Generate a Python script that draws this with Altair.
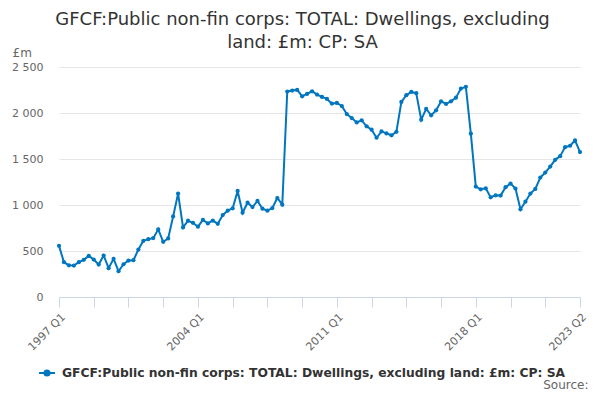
import json
import altair as alt
import pandas as pd

# Quarter categories 1997 Q1 .. 2023 Q2
quarters = [f"{y} Q{q}" for y in range(1997, 2024) for q in range(1, 5)][:106]

values = [
    556, 378, 345, 342, 378, 404, 447, 407, 353, 451,
    313, 415, 280, 356, 396, 400, 516, 611, 629, 640,
    735, 600, 636, 876, 1124, 756, 829, 807, 764, 838,
    800, 831, 795, 891, 938, 964, 1153, 916, 1025, 978,
    1044, 960, 938, 967, 1076, 1004, 2233, 2244, 2251, 2182,
    2207, 2236, 2200, 2175, 2153, 2102, 2109, 2076, 1989, 1945,
    1898, 1920, 1855, 1818, 1731, 1800, 1778, 1758, 1796, 2120,
    2193, 2229, 2215, 1927, 2044, 1975, 2029, 2127, 2098, 2127,
    2167, 2265, 2284, 1775, 1200, 1171, 1182, 1084, 1105, 1102,
    1193, 1233, 1178, 953, 1036, 1124, 1175, 1298, 1353, 1418,
    1491, 1531, 1629, 1644, 1702, 1575,
]

series_name = "GFCF:Public non-fin corps: TOTAL: Dwellings, excluding land: £m: CP: SA"
title_lines = ["GFCF:Public non-fin corps: TOTAL: Dwellings, excluding", "land: £m: CP: SA"]
tick_labels = ["1997 Q1", "2004 Q1", "2011 Q1", "2018 Q1", "2023 Q2"]
tick_quarters = quarters[::7]
y_ticks = [0, 500, 1000, 1500, 2000, 2500]

df = pd.DataFrame({"quarter": quarters, "value": values, "series": series_name})

BLUE = "#0076c0"
FONT = "DejaVu Sans"

label_expr = "indexof(" + json.dumps(tick_labels) + ", datum.value) >= 0 ? datum.value : ''"

legend_symbol = "M-1,0L1,0M-0.32,0A0.32,0.32,0,1,0,0.32,0A0.32,0.32,0,1,0,-0.32,0Z"

chart = alt.Chart(df).mark_line(
    strokeWidth=2,
    point=alt.OverlayMarkDef(size=18, filled=True, opacity=1),
).encode(
    x=alt.X(
        "quarter:O",
        sort=quarters,
        scale=alt.Scale(type="point", padding=0),
        axis=alt.Axis(
            values=tick_quarters,
            labelExpr=label_expr,
            labelAngle=-45,
            labelOverlap=False,
            labelFont=FONT,
            labelFontSize=11,
            labelColor="#666666",
            labelPadding=4,
            domainColor="#ccd6eb",
            tickColor="#ccd6eb",
            tickSize=10,
            grid=False,
            title="Source:",
            titleX=529,
            titleY=91,
            titleAlign="right",
            titleBaseline="alphabetic",
            titleFont=FONT,
            titleFontSize=12,
            titleFontWeight="normal",
            titleColor="#666666",
        ),
    ),
    y=alt.Y(
        "value:Q",
        scale=alt.Scale(domain=[0, 2500], nice=False),
        axis=alt.Axis(
            values=y_ticks,
            labelExpr="replace(format(datum.value, ','), ',', ' ')",
            domain=False,
            ticks=False,
            gridColor="#e6e6e6",
            labelFont=FONT,
            labelFontSize=11,
            labelColor="#666666",
            labelPadding=16,
            title="£m",
            titleAngle=0,
            titleX=-47,
            titleY=-11,
            titleAlign="left",
            titleBaseline="alphabetic",
            titleFont=FONT,
            titleFontSize=12,
            titleFontWeight="normal",
            titleColor="#666666",
        ),
    ),
    color=alt.Color(
        "series:N",
        scale=alt.Scale(range=[BLUE]),
        legend=alt.Legend(
            orient="none",
            legendX=-21,
            legendY=297,
            title=None,
            padding=0,
            labelFont=FONT,
            labelFontWeight="bold",
            labelFontSize=12.3,
            labelColor="#333333",
            labelLimit=700,
            labelOffset=6,
            symbolType=legend_symbol,
            symbolSize=256,
            symbolStrokeWidth=2,
            symbolStrokeColor=BLUE,
            symbolFillColor=BLUE,
        ),
    ),
).properties(
    width=521,
    height=230,
    padding={"left": 51, "top": 59, "right": 12, "bottom": 95},
    autosize=alt.AutoSizeParams(type="none"),
    title=alt.TitleParams(
        text=title_lines,
        anchor="middle",
        font=FONT,
        fontSize=18,
        fontWeight="normal",
        color="#333333",
        lineHeight=23,
        offset=6,
        dy=12,
        dx=-17,
    ),
).configure_view(stroke=None)

chart.save("out.html", embed_options={"renderer": "svg", "actions": False})
